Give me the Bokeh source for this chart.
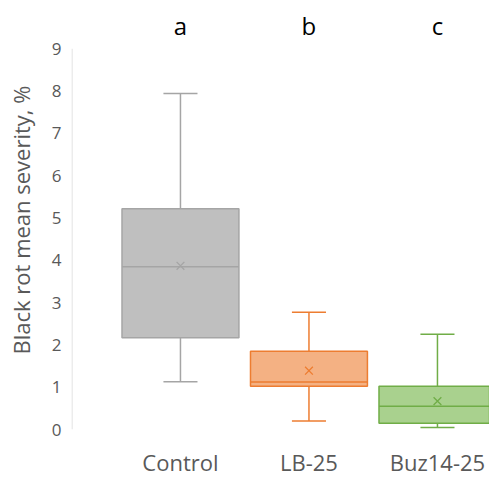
from bokeh.plotting import figure
from bokeh.models import FixedTicker, Range1d, ColumnDataSource
from bokeh.core.properties import value
from bokeh.transform import dodge
from bokeh.embed import file_html
from bokeh.resources import INLINE

categories = ["Control", "LB-25", "Buz14-25"]
lower = [1.13, 0.2, 0.05]
q1 = [2.17, 1.02, 0.15]
median = [3.85, 1.12, 0.55]
q3 = [5.22, 1.85, 1.02]
upper = [7.94, 2.77, 2.25]
means = [3.87, 1.39, 0.67]
letters = ["a", "b", "c"]
y_ticks = [0, 1, 2, 3, 4, 5, 6, 7, 8, 9]

fills = ["#BFBFBF", "#F4B183", "#A9D18E"]
lines = ["#A5A5A5", "#ED7D31", "#70AD47"]

FONT = "Open Sans"
x_start, x_end = -0.848, 2.405
xs = list(range(len(categories)))

p = figure(width=489, height=480, output_backend="svg", toolbar_location=None,
           x_range=Range1d(x_start, x_end), y_range=Range1d(0, 9.905),
           min_border_left=71, min_border_right=0, min_border_top=10, min_border_bottom=51)
p.outline_line_color = None
p.xgrid.grid_line_color = None
p.ygrid.grid_line_color = None

src = ColumnDataSource(dict(x=xs, lower=lower, q1=q1, median=median, q3=q3, upper=upper,
                            mean=means, fill=fills, line=lines, letter=letters))

bw = 0.91
cw = 0.265
# whiskers
p.segment(x0="x", y0="q3", x1="x", y1="upper", line_color="line", line_width=1.5, source=src)
p.segment(x0="x", y0="lower", x1="x", y1="q1", line_color="line", line_width=1.5, source=src)
p.segment(x0=dodge("x", -cw/2), y0="upper", x1=dodge("x", cw/2), y1="upper", line_color="line", line_width=1.5, source=src)
p.segment(x0=dodge("x", -cw/2), y0="lower", x1=dodge("x", cw/2), y1="lower", line_color="line", line_width=1.5, source=src)
# boxes
p.vbar(x="x", width=bw, bottom="q1", top="q3", fill_color="fill", line_color="line", line_width=1.5, source=src)
p.segment(x0=dodge("x", -bw/2), y0="median", x1=dodge("x", bw/2), y1="median", line_color="line", line_width=1.5, source=src)
p.scatter(x="x", y="mean", marker="x", size=11, line_color="line", line_width=1.3, source=src)
# letters
p.text(x="x", y=9.55, text="letter", text_align="center", text_baseline="alphabetic",
       text_font=value(FONT), text_font_size="24px", text_color="#000000", source=src)
# axis line
p.segment(x0=[x_start + 0.004], y0=[0], x1=[x_start + 0.004], y1=[9], line_color="#D9D9D9", line_width=1)

p.yaxis.ticker = FixedTicker(ticks=y_ticks)
p.yaxis.axis_line_color = None
p.yaxis.major_tick_line_color = None
p.yaxis.minor_tick_line_color = None
p.yaxis.major_tick_out = 0
p.yaxis.major_tick_in = 0
p.yaxis.minor_tick_out = 0
p.yaxis.major_label_standoff = 10
p.yaxis.major_label_text_font = FONT
p.yaxis.major_label_text_font_size = "17px"
p.yaxis.major_label_text_color = "#595959"
p.yaxis.axis_label = "Black rot mean severity, %"
p.yaxis.axis_label_text_font = FONT
p.yaxis.axis_label_text_font_size = "22px"
p.yaxis.axis_label_text_font_style = "normal"
p.yaxis.axis_label_text_color = "#595959"
p.yaxis.axis_label_standoff = 13

p.xaxis.ticker = FixedTicker(ticks=xs)
p.xaxis.major_label_overrides = {i: c for i, c in zip(xs, categories)}
p.xaxis.axis_line_color = None
p.xaxis.major_tick_line_color = None
p.xaxis.minor_tick_line_color = None
p.xaxis.major_tick_out = 0
p.xaxis.major_tick_in = 0
p.xaxis.minor_tick_out = 0
p.xaxis.axis_label_standoff = 0
p.xaxis.major_label_standoff = 17
p.xaxis.major_label_text_font = FONT
p.xaxis.major_label_text_font_size = "22px"
p.xaxis.major_label_text_color = "#595959"

open("out.html", "w").write(file_html(p, INLINE))
